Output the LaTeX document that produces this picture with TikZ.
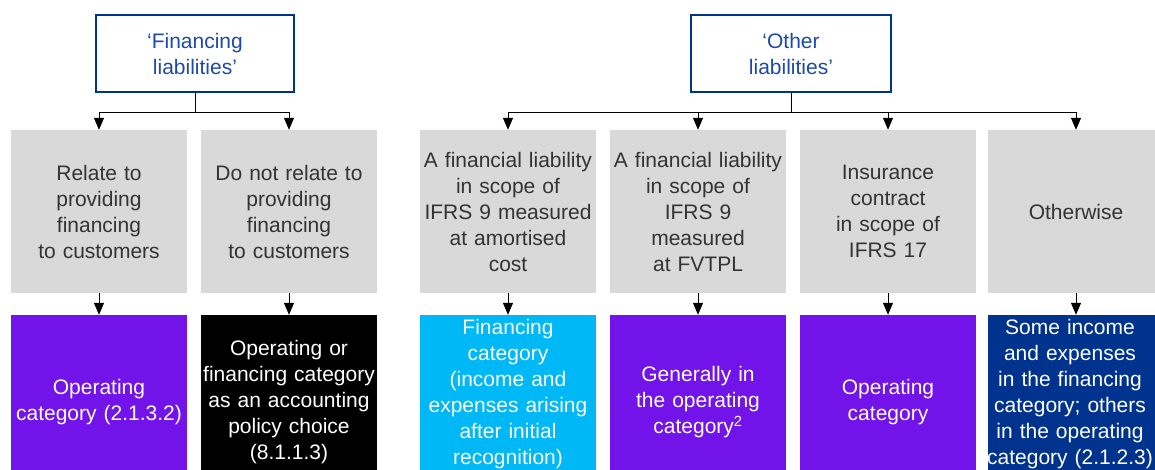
\documentclass[tikz,border=0pt]{standalone}
\usepackage{fontspec}
\setmainfont{Liberation Sans}
\usetikzlibrary{arrows.meta}

\definecolor{kblue}{HTML}{00338D}
\definecolor{ktext}{HTML}{1E49A8}
\definecolor{kgrey}{HTML}{D9D9D9}
\definecolor{kpurple}{HTML}{7213EA}
\definecolor{kcyan}{HTML}{00B8F5}
\definecolor{kdark}{HTML}{333333}

\begin{document}
\begin{tikzpicture}[x=1pt,y=-1pt,
    every node/.style={font=\fontsize{21}{26}\selectfont, align=center, inner sep=0pt},
    topbox/.style={draw=kblue, line width=2.5pt, text=ktext, minimum width=198pt, minimum height=77pt},
    greybox/.style={fill=kgrey, text=kdark, text width=176pt, minimum height=163pt},
    catbox/.style={text=white, text width=176pt, minimum height=175pt},
    link/.style={line width=1pt, -{Triangle[width=10pt,length=12pt]}}]

      \useasboundingbox (0,0) rectangle (1155,470);
      \clip (0,0) rectangle (1155,470);

      % the two kinds of liabilities
      \node[topbox] (finliab) at (195,53.5) {‘Financing\\liabilities’};
      \node[topbox, minimum width=200pt] (othliab) at (791,53.5) {‘Other\\liabilities’};

      % conditions
      \node[greybox] (custfin) at (99,211.5) {Relate to\\providing\\financing\\to customers};
      \node[greybox] (custnot) at (289,211.5) {Do not relate to\\providing\\financing\\to customers};
      \node[greybox] (amort) at (508,211.5) {A financial liability\\in scope of\\IFRS 9 measured\\at amortised\\cost};
      \node[greybox] (fvtpl) at (698,211.5) {A financial liability\\in scope of\\IFRS 9\\measured\\at FVTPL};
      \node[greybox] (insur) at (888,211.5) {Insurance\\contract\\in scope of\\IFRS 17};
      \node[greybox] (otherw) at (1076,211.5) {Otherwise};

      % resulting categories
      \node[catbox, fill=kpurple] (catcust) at (99,402.5) {Operating\\category (2.1.3.2)};
      \node[catbox, fill=black] (catchoice) at (289,402.5) {Operating or\\financing category\\as an accounting\\policy choice\\(8.1.1.3)};
      \node[catbox, fill=kcyan] (catamort) at (508,402.5) {Financing\\category\\(income and\\expenses arising\\after initial\\recognition)\par\vspace{16pt}};
      \node[catbox, fill=kpurple] (catfvtpl) at (698,402.5) {Generally in\\the operating\\category\textsuperscript{2}};
      \node[catbox, fill=kpurple] (catinsur) at (888,402.5) {Operating\\category};
      \node[catbox, fill=kblue] (catother) at (1076,402.5) {};
      \node[text=white, text width=166pt] (catothertxt) at (1070,394.5) {Some income\\and expenses\\in the financing\\category; others\\in the operating\\category (2.1.2.3)};

      % connectors
      \foreach \dest in {custfin,custnot}
        \draw[link] (finliab.south) -- ++(0,19) -| (\dest.north);
      \foreach \dest in {amort,fvtpl,insur,otherw}
        \draw[link] (othliab.south) -- ++(0,19) -| (\dest.north);

      \draw[link] (custfin) -- (catcust);
      \draw[link] (custnot) -- (catchoice);
      \draw[link] (amort) -- (catamort);
      \draw[link] (fvtpl) -- (catfvtpl);
      \draw[link] (insur) -- (catinsur);
      \draw[link] (otherw) -- (catother);

    \end{tikzpicture}
\end{document}
